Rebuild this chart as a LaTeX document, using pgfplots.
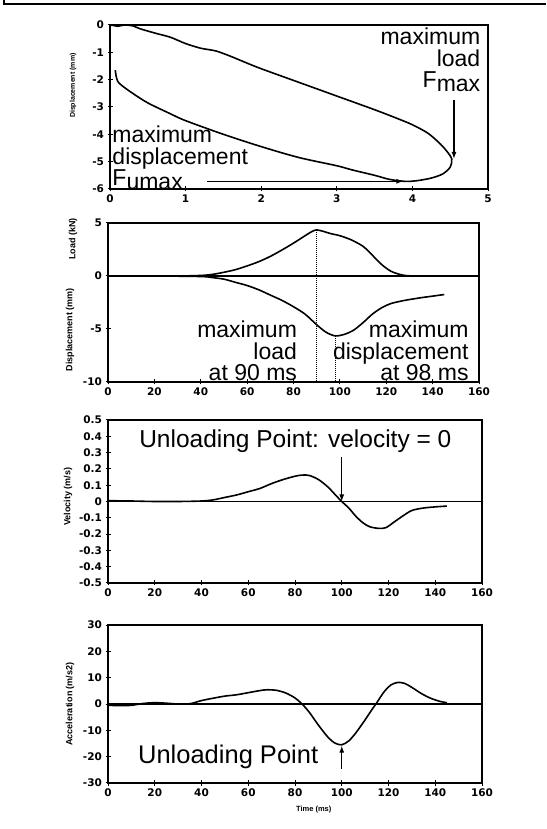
\documentclass[border=0pt]{standalone}
\usepackage{fontspec}
\setmainfont{Liberation Sans}
\newfontfamily\tickfamily{DejaVu Sans}
\usepackage{pgfplots}
\pgfplotsset{compat=1.18}
\usetikzlibrary{arrows.meta}

\newcommand{\notefont}{\fontsize{23}{21.5}\selectfont}
\newcommand{\labfont}{\bfseries\fontsize{9}{9}\selectfont}

\pgfplotsset{
  panel/.style={
    scale only axis,
    anchor=south west,
    axis line style={line width=1.3pt},
    tick style={black, line width=1pt},
    tick align=center,
    major tick length=5pt,
    xtick pos=bottom, ytick pos=left,
    ticklabel style={font=\tickfamily\bfseries\fontsize{10.5}{10.5}\selectfont},
    /pgf/number format/assume math mode=true,
    clip=false,
  },
  timeaxis/.style={xmin=0, xmax=160, xtick={0,20,...,160}},
  curve/.style={black, line width=1.6pt, smooth},
}

\begin{document}
\begin{tikzpicture}
\useasboundingbox (0,0) rectangle (546pt,829pt);
% outer frame of the scanned figure
\draw[line width=1.2pt] (4pt,829pt) -- (4pt,825pt) -- (546pt,825pt);

% ---- panel 1: loop ----
\begin{axis}[panel, at={(110pt,640pt)}, width=378pt, height=164pt,
  xmin=0, xmax=5, xtick={0,1,2,3,4,5},
  ymin=-6, ymax=0, ytick={-6,-5,-4,-3,-2,-1,0},
  yticklabels={-6,-5,-4,-3,-2,-1,0}]
\addplot[curve] coordinates {
  (0,0)(0.05,-0.02)(0.1,-0.05)(0.15,-0.02)(0.2,0)(0.3,-0.03)(0.4,-0.14)
  (0.6,-0.3)(0.8,-0.45)(1.0,-0.68)(1.2,-0.85)(1.4,-0.95)(1.6,-1.15)
  (1.8,-1.38)(2.0,-1.6)(2.5,-2.1)(3.0,-2.6)(3.5,-3.1)(3.8,-3.42)
  (4.0,-3.65)(4.2,-3.95)(4.35,-4.3)(4.45,-4.6)(4.52,-4.9)(4.5,-5.2)
  (4.4,-5.45)(4.25,-5.6)(4.05,-5.7)(3.9,-5.72)(3.7,-5.65)(3.5,-5.5)
  (3.2,-5.3)(3.0,-5.15)(2.5,-4.85)(2.0,-4.45)(1.5,-4.0)(1.0,-3.5)
  (0.8,-3.25)(0.5,-2.85)(0.3,-2.5)(0.15,-2.2)(0.1,-2.05)(0.08,-1.85)(0.07,-1.65)};
\draw[line width=1.2pt, -{Latex[length=7pt,width=5pt]}] (axis cs:4.55,-2.75) -- (axis cs:4.55,-4.9);
\draw[line width=1.2pt, -{Latex[length=7pt,width=5pt]}] (axis cs:1.28,-5.72) -- (axis cs:3.88,-5.72);
\node[anchor=north east, align=right, inner sep=0pt, font=\notefont] at (axis cs:4.9,-0.1)
  {maximum\\load\\F\raisebox{-4pt}{max}};
\node[anchor=north west, align=left, inner sep=0pt, font=\notefont] at (axis cs:0.03,-3.7)
  {maximum\\displacement\\F\raisebox{-4pt}{umax}};
\node[xshift=-37pt, rotate=90, font=\bfseries\fontsize{7}{7}\selectfont] at (axis description cs:0,0.63) {Displacement (mm)};
\end{axis}

% ---- panel 2: load and displacement vs time ----
\begin{axis}[panel, timeaxis, at={(108pt,447pt)}, width=371pt, height=159pt,
  ymin=-10, ymax=5, ytick={-10,-5,0,5}, yticklabels={-10,-5,0,5}]
\addplot[black, line width=1.2pt] coordinates {(0,0)(160,0)};
\addplot[curve] coordinates {
  (0,0)(20,0)(30,0)(40,0.05)(45,0.15)(50,0.35)(55,0.6)(60,0.95)(65,1.35)
  (70,1.85)(75,2.45)(80,3.1)(85,3.8)(88,4.2)(90,4.35)(93,4.2)(96,4.0)
  (100,3.8)(105,3.4)(110,2.8)(113,2.2)(116,1.5)(119,0.9)(122,0.45)
  (125,0.2)(128,0.05)(132,0)};
\addplot[curve] coordinates {
  (0,0)(20,0)(40,-0.05)(45,-0.15)(50,-0.3)(55,-0.6)(60,-0.9)(65,-1.3)
  (70,-1.8)(75,-2.3)(80,-2.9)(85,-3.6)(90,-4.6)(94,-5.3)(98,-5.65)
  (102,-5.5)(106,-5.1)(110,-4.4)(114,-3.6)(118,-3.0)(122,-2.6)(128,-2.3)
  (135,-2.05)(140,-1.9)(145,-1.75)};
\addplot[black, line width=1pt, densely dotted] coordinates {(90,4.35)(90,-10)};
\addplot[black, line width=1pt, densely dotted] coordinates {(98,-5.65)(98,-10)};
\node[anchor=south east, align=right, inner sep=1pt, font=\notefont] at (axis cs:82,-10)
  {maximum\\load\\at 90 ms};
\node[anchor=south east, align=right, inner sep=1pt, font=\notefont] at (axis cs:156,-10)
  {maximum\\displacement\\at 98 ms};
\node[xshift=-35pt, rotate=90, font=\labfont] at (axis description cs:0,0.9) {Load (kN)};
\node[xshift=-38pt, rotate=90, font=\labfont] at (axis description cs:0,0.33) {Displacement (mm)};
\end{axis}

% ---- panel 3: velocity ----
\begin{axis}[panel, timeaxis, at={(108pt,246pt)}, width=374pt, height=163pt,
  ymin=-0.5, ymax=0.5, ytick={-0.5,-0.4,-0.3,-0.2,-0.1,0,0.1,0.2,0.3,0.4,0.5},
  yticklabels={-0.5,-0.4,-0.3,-0.2,-0.1,0,0.1,0.2,0.3,0.4,0.5}]
\addplot[black, line width=1.2pt] coordinates {(0,0)(160,0)};
\addplot[curve] coordinates {
  (0,0.005)(10,0.003)(20,0)(30,0)(40,0.003)(45,0.01)(50,0.025)(55,0.04)
  (60,0.06)(65,0.08)(70,0.11)(75,0.135)(80,0.155)(83,0.162)(86,0.16)
  (90,0.135)(94,0.09)(97,0.045)(100,0)(103,-0.04)(106,-0.09)(109,-0.13)
  (112,-0.155)(116,-0.165)(119,-0.16)(122,-0.13)(126,-0.09)(130,-0.055)
  (135,-0.04)(140,-0.033)(145,-0.028)};
\draw[line width=1.2pt, -{Latex[length=7pt,width=5pt]}] (axis cs:100,0.27) -- (axis cs:100,0);
\node[anchor=east, inner sep=0pt, font=\fontsize{24.5}{24.5}\selectfont] at (axis cs:147,0.37) {Unloading Point: velocity = 0};
\node[xshift=-40pt, rotate=90, font=\labfont] at (axis description cs:0,0.53) {Velocity (m/s)};
\end{axis}

% ---- panel 4: acceleration ----
\begin{axis}[panel, timeaxis, at={(108pt,46pt)}, width=374pt, height=158pt,
  ymin=-30, ymax=30, ytick={-30,-20,-10,0,10,20,30},
  yticklabels={-30,-20,-10,0,10,20,30}]
\addplot[black, line width=1.2pt] coordinates {(0,0)(160,0)};
\addplot[curve] coordinates {
  (0,-0.5)(5,-0.6)(10,-0.5)(15,0.2)(20,0.5)(25,0.3)(30,0)(35,0.1)(40,1.3)
  (45,2.2)(50,3.0)(55,3.5)(60,4.3)(65,5.1)(68,5.4)(72,5.2)(76,4.2)(80,2.3)
  (83,0)(86,-3)(90,-8)(94,-12.5)(97,-14.8)(100,-15.5)(103,-14)(106,-11)
  (110,-6)(113,-2)(115,0.5)(118,4.5)(121,7.2)(124,8.2)(127,7.8)(130,6.3)
  (134,4)(138,2.2)(142,1)(145,0.5)};
\draw[line width=1.2pt, -{Latex[length=7pt,width=5pt]}] (axis cs:100,-24.5) -- (axis cs:100,-15.8);
\node[anchor=east, inner sep=0pt, font=\fontsize{25.5}{25.5}\selectfont] at (axis cs:90,-20) {Unloading Point};
\node[xshift=-38pt, rotate=90, font=\labfont] at (axis description cs:0,0.5) {Acceleration (m/s2)};
\node[yshift=-27pt, font=\bfseries\fontsize{7.5}{7.5}\selectfont] at (axis description cs:0.55,0) {Time (ms)};
\end{axis}
\end{tikzpicture}
\end{document}
